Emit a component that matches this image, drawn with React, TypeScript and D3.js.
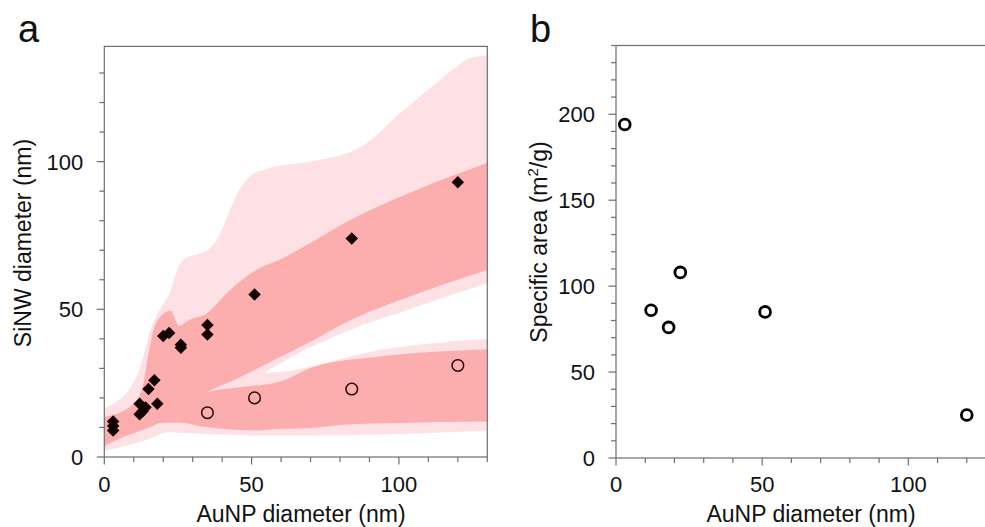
import React, { useEffect, useRef } from 'react';
import * as d3 from 'd3';

// panel a: SiNW diameter vs AuNP diameter
const diamondX = [3, 3, 3, 12, 12, 13, 14, 15, 17, 18, 20, 22, 26, 26, 35, 35, 51, 84, 120];
const diamondY = [12, 10.5, 9, 18, 14.5, 15.5, 16.8, 23, 26, 18, 41, 42, 38, 37, 44.7, 41.5, 55, 74, 93];
const ringX = [35, 51, 84, 120];
const ringY = [15, 20, 23, 31];

// band outlines [AuNP, SiNW]
const upperLightTop = [[0, 16.5], [10, 25.3], [12, 30], [16, 44], [19.5, 51], [22, 55], [25.5, 65], [28, 67.5], [31, 68.5], [35, 70], [39, 75], [43, 84.5], [46.5, 91.5], [50, 95.5], [55, 97.5], [70, 100], [84, 103.5], [88, 105.5], [100, 116], [112, 126], [118, 131], [124, 135], [130, 136]];
const upperLightBottom = [[0, 2], [20, 8], [40, 20], [54.4, 28.5], [59.5, 31.6], [82, 42.4], [105, 50.5], [130, 58.8]];
const upperDarkTop = [[0, 13.5], [10, 18], [13.3, 25], [15, 35], [16.7, 43], [19, 47.5], [22.5, 49.5], [25.3, 44.5], [29, 46.5], [34.7, 48.5], [42.6, 56.5], [51, 63], [60, 67], [70, 72.5], [83, 80], [105, 90], [130, 99.5]];
const upperDarkBottom = [[0, 5], [10, 8], [25, 15], [35, 22], [45, 26.5], [55, 31.5], [60, 34], [70, 39], [82, 45.5], [105, 54.8], [130, 63.3]];
const lowerLightTop = [[0, 12], [20, 18], [40, 26], [54.4, 28.5], [59.5, 28.8], [93.5, 36.2], [130, 40]];
const lowerLightBottom = [[0, 2], [8, 5.5], [17, 8.5], [30, 8], [50, 7.3], [70, 7.3], [100, 7.8], [130, 9]];
const lowerDarkTop = [[0, 10], [20, 16], [35, 22], [45, 23.5], [59.5, 25.5], [71, 30.5], [93.5, 34], [130, 36.5]];
const lowerDarkBottom = [[0, 3.6], [8, 7.5], [17, 11.3], [25, 11.7], [34, 10.2], [50, 9], [60, 9.5], [70, 9.8], [82, 11], [100, 11.5], [130, 12]];

// panel b: specific area vs AuNP diameter
const areaX = [3, 12, 18, 22, 51, 120];
const areaY = [194, 86, 76, 108, 85, 25];

const FONT = '"Liberation Sans", Arial, sans-serif';
const AXIS = '#6e6e6e';
const LIGHT = '#fee1e4';
const DARK = '#fcaeae';

const drawAxes = (g, x, y, yMaxTick, yMajor) => {
  const [x0, x1] = x.range();
  const [y0, y1] = y.range();
  g.append('rect')
    .attr('x', x0).attr('y', y1)
    .attr('width', x1 - x0).attr('height', y0 - y1)
    .attr('fill', 'none').attr('stroke', AXIS).attr('stroke-width', 1.2);

  const yt = d3.range(0, yMaxTick + 1, 10);
  g.selectAll('.yt').data(yt).enter().append('line')
    .attr('x1', x0).attr('x2', d => x0 - (d % yMajor === 0 ? 7.5 : 5))
    .attr('y1', d => y(d)).attr('y2', d => y(d))
    .attr('stroke', AXIS).attr('stroke-width', 1.2);
  g.selectAll('.yl').data(yt.filter(d => d % yMajor === 0)).enter().append('text')
    .attr('x', x0 - 21).attr('y', d => y(d)).attr('dy', '0.36em')
    .attr('text-anchor', 'end').attr('font-size', 22).attr('font-family', FONT)
    .attr('fill', '#111').text(d => d);

  const xt = d3.range(0, 131, 10);
  g.selectAll('.xt').data(xt).enter().append('line')
    .attr('x1', d => x(d)).attr('x2', d => x(d))
    .attr('y1', y0).attr('y2', d => y0 + (d % 50 === 0 ? 7.5 : 5))
    .attr('stroke', AXIS).attr('stroke-width', 1.2);
  g.selectAll('.xl').data(xt.filter(d => d % 50 === 0)).enter().append('text')
    .attr('x', d => x(d)).attr('y', 492)
    .attr('text-anchor', 'middle').attr('font-size', 22).attr('font-family', FONT)
    .attr('fill', '#111').text(d => d);
};

const draw = (svgEl) => {
  const svg = d3.select(svgEl);
  svg.selectAll('*').remove();

  // ---- panel a
  const xA = d3.scaleLinear().domain([0, 130]).range([104.3, 487.3]);
  const yA = d3.scaleLinear().domain([0, 139]).range([457, 46.4]);
  const a = svg.append('g');

  a.append('clipPath').attr('id', 'clipA').append('rect')
    .attr('x', 104.3).attr('y', 46.4).attr('width', 383).attr('height', 410.6);

  const line = d3.line().x(d => xA(d[0])).y(d => yA(d[1])).curve(d3.curveMonotoneX);
  const band = (top, bottom) => line(top) + 'L' + line(bottom.slice().reverse()).slice(1) + 'Z';

  const bands = a.append('g').attr('clip-path', 'url(#clipA)');
  bands.append('path').attr('d', band(upperLightTop, upperLightBottom)).attr('fill', LIGHT);
  bands.append('path').attr('d', band(lowerLightTop, lowerLightBottom)).attr('fill', LIGHT);
  bands.append('path').attr('d', band(upperDarkTop, upperDarkBottom)).attr('fill', DARK);
  bands.append('path').attr('d', band(lowerDarkTop, lowerDarkBottom)).attr('fill', DARK);

  const diamond = d3.symbol().type(d3.symbolSquare).size(78)();
  a.selectAll('.dia').data(diamondX).enter().append('path')
    .attr('d', diamond)
    .attr('transform', (d, i) => `translate(${xA(d)},${yA(diamondY[i])}) rotate(45)`)
    .attr('fill', '#140303');

  a.selectAll('.ring').data(ringX).enter().append('circle')
    .attr('cx', d => xA(d)).attr('cy', (d, i) => yA(ringY[i])).attr('r', 5.8)
    .attr('fill', 'none').attr('stroke', '#2a0808').attr('stroke-width', 1.5);

  drawAxes(a, xA, yA, 130, 50);

  a.append('text').attr('x', 18).attr('y', 42)
    .attr('font-size', 38).attr('font-family', FONT).attr('fill', '#111').text('a');
  a.append('text').attr('x', 301).attr('y', 522)
    .attr('text-anchor', 'middle').attr('font-size', 23).attr('font-family', FONT)
    .attr('fill', '#111').text('AuNP diameter (nm)');
  a.append('text').attr('transform', 'translate(30.5,243) rotate(-90)')
    .attr('text-anchor', 'middle').attr('font-size', 23).attr('font-family', FONT)
    .attr('fill', '#111').text('SiNW diameter (nm)');

  // ---- panel b
  const xB = d3.scaleLinear().domain([0, 130]).range([616, 996]);
  const yB = d3.scaleLinear().domain([0, 240]).range([458, 45.5]);
  const b = svg.append('g');

  b.selectAll('.pt').data(areaX).enter().append('circle')
    .attr('cx', d => xB(d)).attr('cy', (d, i) => yB(areaY[i])).attr('r', 5.4)
    .attr('fill', 'none').attr('stroke', '#000').attr('stroke-width', 2.8);

  drawAxes(b, xB, yB, 240, 50);

  b.append('text').attr('x', 530).attr('y', 42)
    .attr('font-size', 38).attr('font-family', FONT).attr('fill', '#111').text('b');
  b.append('text').attr('x', 811).attr('y', 522)
    .attr('text-anchor', 'middle').attr('font-size', 23).attr('font-family', FONT)
    .attr('fill', '#111').text('AuNP diameter (nm)');
  const yt = b.append('text').attr('transform', 'translate(547,242) rotate(-90)')
    .attr('text-anchor', 'middle').attr('font-size', 23).attr('font-family', FONT)
    .attr('fill', '#111');
  yt.append('tspan').text('Specific area (m');
  yt.append('tspan').attr('font-size', 15).attr('dy', -9).text('2');
  yt.append('tspan').attr('dy', 9).text('/g)');
};

const App = () => {
  const ref = useRef(null);
  useEffect(() => {
    draw(ref.current);
  }, []);
  return (
    <svg ref={ref} width={985} height={527}
      style={{ position: 'absolute', left: 0, top: 0, background: '#fff' }} />
  );
};

export default App;
